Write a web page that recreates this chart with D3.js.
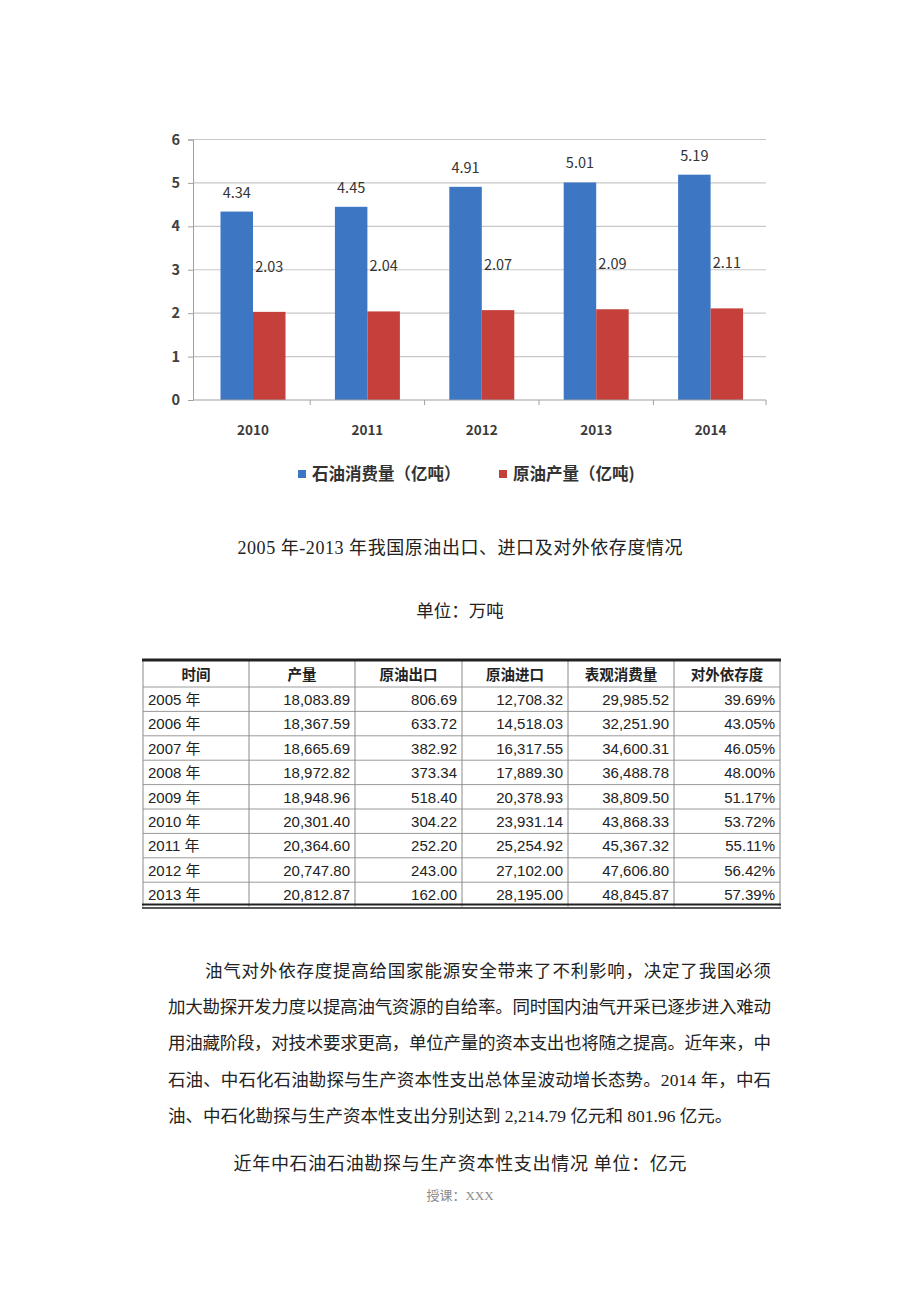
<!DOCTYPE html>
<html><head><meta charset="utf-8">
<script src="https://cdn.jsdelivr.net/npm/d3@7/dist/d3.min.js"></script>
<style>html,body{margin:0;padding:0;background:#fff;}svg{display:block;}</style>
</head><body>
<script>
// ---- data ----
const years = ["2010","2011","2012","2013","2014"];
const consumption = [4.34, 4.45, 4.91, 5.01, 5.19];
const production = [2.03, 2.04, 2.07, 2.09, 2.11];
const seriesNames = ["石油消费量（亿吨）", "原油产量（亿吨)"];
const yTicks = [0,1,2,3,4,5,6];

const tableHeader = ["时间","产量","原油出口","原油进口","表观消费量","对外依存度"];
const tableYears = ["2005 年","2006 年","2007 年","2008 年","2009 年","2010 年","2011 年","2012 年","2013 年"];
const tOutput = ["18,083.89","18,367.59","18,665.69","18,972.82","18,948.96","20,301.40","20,364.60","20,747.80","20,812.87"];
const tExport = ["806.69","633.72","382.92","373.34","518.40","304.22","252.20","243.00","162.00"];
const tImport = ["12,708.32","14,518.03","16,317.55","17,889.30","20,378.93","23,931.14","25,254.92","27,102.00","28,195.00"];
const tConsume = ["29,985.52","32,251.90","34,600.31","36,488.78","38,809.50","43,868.33","45,367.32","47,606.80","48,845.87"];
const tDepend = ["39.69%","43.05%","46.05%","48.00%","51.17%","53.72%","55.11%","56.42%","57.39%"];

const caption1 = "2005 年-2013 年我国原油出口、进口及对外依存度情况";
const unit1 = "单位：万吨";
const paraLines = [
  "油气对外依存度提高给国家能源安全带来了不利影响，决定了我国必须",
  "加大勘探开发力度以提高油气资源的自给率。同时国内油气开采已逐步进入难动",
  "用油藏阶段，对技术要求更高，单位产量的资本支出也将随之提高。近年来，中",
  "石油、中石化石油勘探与生产资本性支出总体呈波动增长态势。2014 年，中石",
  "油、中石化勘探与生产资本性支出分别达到 2,214.79 亿元和 801.96 亿元。"
];
const caption2 = "近年中石油石油勘探与生产资本性支出情况 单位：亿元";
const footer = "授课：XXX";

// ---- drawing ----
const W = 920, H = 1302;
const svg = d3.select("body").append("svg").attr("width", W).attr("height", H);
svg.append("rect").attr("width", W).attr("height", H).attr("fill", "#fff");

const colors = ["#3d77c4", "#c5403b"];
const chartFont = "'Noto Sans CJK SC','Liberation Sans',sans-serif";
const serifFont = "'Liberation Serif','Noto Sans CJK SC',serif";

const y = d3.scaleLinear().domain([0, 6]).range([400, 139.5]);
const x = d3.scaleBand().domain(years).range([195.8, 767.8]).paddingInner(0.432).paddingOuter(0.216);
const xs = d3.scaleBand().domain([0,1]).range([0, x.bandwidth()]);
const plotL = 193, plotR = 766;

// gridlines
svg.append("g").selectAll("line").data(yTicks.filter(d => d > 0)).join("line")
  .attr("x1", plotL).attr("x2", plotR).attr("y1", d => y(d)).attr("y2", d => y(d))
  .attr("stroke", "#c8c8c8").attr("stroke-width", 1.2);

// y axis
const yAxis = d3.axisLeft(y).tickValues(yTicks).tickFormat(d3.format("d")).tickSize(5).tickPadding(8);
const gy = svg.append("g").attr("transform", `translate(${plotL},0)`).call(yAxis);
gy.select(".domain").attr("stroke", "#a0a0a0");
gy.selectAll(".tick line").attr("stroke", "#a0a0a0");
gy.selectAll(".tick text").attr("font-family", chartFont).attr("font-size", 14.5).attr("fill", "#404040").attr("font-weight", "bold");

// bars
const vals = [consumption, production];
vals.forEach((arr, si) => {
  svg.append("g").selectAll("rect").data(arr).join("rect")
    .attr("x", (d, i) => x(years[i]) + xs(si))
    .attr("width", xs.bandwidth())
    .attr("y", d => y(d))
    .attr("height", d => y(0) - y(d))
    .attr("fill", colors[si]);
});

// x axis
const xAxisG = svg.append("g");
xAxisG.append("line").attr("x1", plotL).attr("x2", plotR).attr("y1", y(0)).attr("y2", y(0)).attr("stroke", "#a0a0a0").attr("stroke-width", 1.2);
const bounds = years.map(yr => x(yr) - x.step()*x.paddingInner()/2).concat([767.8 - 1.8]);
xAxisG.selectAll("line.tk").data(bounds.slice(1)).join("line").attr("class","tk")
  .attr("x1", d => d).attr("x2", d => d).attr("y1", y(0)).attr("y2", y(0) + 5).attr("stroke", "#a0a0a0");
xAxisG.selectAll("text").data(years).join("text")
  .attr("x", d => x(d) + x.bandwidth()/2).attr("y", 435)
  .attr("text-anchor", "middle").attr("font-family", chartFont).attr("font-size", 13.5).attr("font-weight", "bold").attr("fill", "#3a3a3a")
  .text(d => d);

// value labels
svg.append("g").selectAll("text").data(consumption).join("text")
  .attr("x", (d, i) => x(years[i]) + xs(0) + xs.bandwidth()/2)
  .attr("y", d => y(d) - 14)
  .attr("text-anchor", "middle").attr("font-family", chartFont).attr("font-size", 14.5).attr("fill", "#333")
  .text(d => d.toFixed(2));
svg.append("g").selectAll("text").data(production).join("text")
  .attr("x", (d, i) => x(years[i]) + xs(1) + xs.bandwidth()/2)
  .attr("y", d => y(d) - 40)
  .attr("text-anchor", "middle").attr("font-family", chartFont).attr("font-size", 14.5).attr("fill", "#333")
  .text(d => d.toFixed(2));

// legend
const legX = [298, 499];
seriesNames.forEach((n, i) => {
  svg.append("rect").attr("x", legX[i]).attr("y", 470).attr("width", 8).attr("height", 8).attr("fill", colors[i]);
  svg.append("text").attr("x", legX[i] + 14).attr("y", 480).attr("font-family", chartFont).attr("font-size", 16.5).attr("font-weight", "bold").attr("fill", "#333").text(n);
});

// captions
function centerText(t, yy, size, col, len) {
  const tx = svg.append("text").attr("x", 460).attr("y", yy).attr("text-anchor", "middle")
    .attr("font-family", serifFont).attr("font-size", size).attr("fill", col || "#222").text(t);
  if (len) tx.attr("textLength", len).attr("lengthAdjust", "spacing");
}
centerText(caption1, 554, 18, "#222", 445);
centerText(unit1, 617, 17.5);

// table
const colX = [143, 249, 355, 462, 568, 674, 780];
const tTop = 660, hdrH = 27, rowH = 24.4;
const cols = [tableYears, tOutput, tExport, tImport, tConsume, tDepend];
const tg = svg.append("g");
for (let r = 0; r < 9; r++) {
  const yy = tTop + hdrH + r * rowH;
  tg.append("line").attr("x1", colX[0]).attr("x2", colX[6]).attr("y1", yy).attr("y2", yy).attr("stroke", "#9a9a9a").attr("stroke-width", 1);
}
colX.forEach(cx => tg.append("line").attr("x1", cx).attr("x2", cx).attr("y1", tTop).attr("y2", tTop + hdrH + 9*rowH).attr("stroke", "#8a8a8a").attr("stroke-width", 1));
tg.append("line").attr("x1", colX[0]-1).attr("x2", colX[6]+1).attr("y1", tTop).attr("y2", tTop).attr("stroke", "#222").attr("stroke-width", 3);
const tBot = tTop + hdrH + 9*rowH;
tg.append("line").attr("x1", colX[0]-1).attr("x2", colX[6]+1).attr("y1", tBot-2).attr("y2", tBot-2).attr("stroke", "#222").attr("stroke-width", 2);
tg.append("line").attr("x1", colX[0]-1).attr("x2", colX[6]+1).attr("y1", tBot+1.5).attr("y2", tBot+1.5).attr("stroke", "#222").attr("stroke-width", 1.5);
tableHeader.forEach((h, c) => {
  tg.append("text").attr("x", (colX[c] + colX[c+1]) / 2).attr("y", tTop + 19.5)
    .attr("text-anchor", "middle").attr("font-family", chartFont).attr("font-size", 14.5).attr("font-weight", "bold").attr("fill", "#222").text(h);
});
cols.forEach((arr, c) => {
  tg.selectAll("text.c" + c).data(arr).join("text").attr("class", "c" + c)
    .attr("x", c === 0 ? colX[0] + 5 : colX[c+1] - 5)
    .attr("y", (d, r) => tTop + hdrH + r * rowH + 18)
    .attr("text-anchor", c === 0 ? "start" : "end")
    .attr("font-family", "'Liberation Sans','Noto Sans CJK SC',sans-serif").attr("font-size", 15).attr("fill", "#222")
    .text(d => d);
});

// paragraph
const paraY = [977, 1013, 1049, 1086, 1122];
paraLines.forEach((t, i) => {
  const tx = svg.append("text").attr("x", i === 0 ? 205 : 168).attr("y", paraY[i])
    .attr("font-family", serifFont).attr("font-size", 17.5).attr("fill", "#222").text(t);
  if (i < 4) tx.attr("textLength", i === 0 ? 566 : 603).attr("lengthAdjust", "spacing");
});

centerText(caption2, 1170, 18, "#222", 453);
centerText(footer, 1200, 13, "#8a8a8a");
</script>
</body></html>
